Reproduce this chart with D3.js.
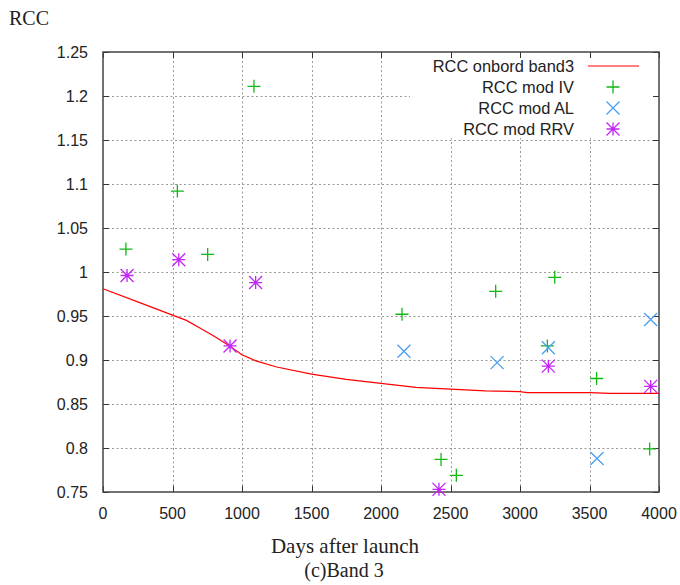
<!DOCTYPE html>
<html>
<head>
<meta charset="utf-8">
<script src="https://cdn.jsdelivr.net/npm/d3@7"></script>
<style>
  body { margin: 0; background: #fff; }
  svg { display: block; }
  .tick-label { font-family: "Liberation Sans", Arial, sans-serif; font-size: 16px; fill: #222; }
  .serif { font-family: "Liberation Serif", "Times New Roman", serif; fill: #222; }
</style>
</head>
<body>
<div id="chart"></div>
<script>
// onboard RCC curve (days, value)
var onboardDays = [0, 250, 500, 600, 700, 800, 900, 1000, 1100, 1250, 1500, 1750, 2000, 2250, 2500, 2750, 3000, 3050, 3500, 3650, 4000];
var onboardRcc  = [0.981, 0.966, 0.951, 0.945, 0.936, 0.927, 0.917, 0.906, 0.899, 0.892, 0.884, 0.878, 0.8735, 0.869, 0.867, 0.865, 0.864, 0.863, 0.863, 0.862, 0.862];

// RCC mod IV
var ivDays = [165, 535, 753, 1086, 2151, 2432, 2542, 2825, 3197, 3250, 3551, 3933];
var ivRcc  = [1.026, 1.092, 1.020, 1.211, 0.952, 0.787, 0.769, 0.978, 0.916, 0.994, 0.879, 0.799];

// RCC mod AL
var alDays = [2165, 2835, 3204, 3554, 3940];
var alRcc  = [0.910, 0.897, 0.914, 0.788, 0.946];

// RCC mod RRV
var rrvDays = [173, 545, 914, 1098, 2417, 3204, 3940];
var rrvRcc  = [0.996, 1.014, 0.916, 0.988, 0.753, 0.893, 0.870];

var xTicks = [0, 500, 1000, 1500, 2000, 2500, 3000, 3500, 4000];
var yTicks = [0.75, 0.8, 0.85, 0.9, 0.95, 1, 1.05, 1.1, 1.15, 1.2, 1.25];

var legendLabels = ["RCC onbord band3", "RCC mod IV", "RCC mod AL", "RCC mod RRV"];

var width = 680, height = 585;
var plotL = 103, plotR = 659, plotT = 52, plotB = 492;

var svg = d3.select("#chart").append("svg")
    .attr("width", width)
    .attr("height", height);

var x = d3.scaleLinear().domain([0, 4000]).range([plotL, plotR]);
var y = d3.scaleLinear().domain([0.75, 1.25]).range([plotB, plotT]);

// grid
var grid = svg.append("g");
grid.selectAll(".vg").data(xTicks.slice(1, -1)).enter().append("line")
    .attr("x1", d => Math.round(x(d)) + 0.5).attr("x2", d => Math.round(x(d)) + 0.5)
    .attr("y1", plotT).attr("y2", plotB)
    .attr("stroke", "#999").attr("stroke-width", 1)
    .attr("stroke-dasharray", "2,2.5");
grid.selectAll(".hg").data(yTicks.slice(1, -1)).enter().append("line")
    .attr("y1", d => Math.round(y(d)) + 0.5).attr("y2", d => Math.round(y(d)) + 0.5)
    .attr("x1", plotL).attr("x2", plotR)
    .attr("stroke", "#999").attr("stroke-width", 1)
    .attr("stroke-dasharray", "2,2.5");

// legend box (opaque, hides the grid behind it)
svg.append("rect")
    .attr("x", 410).attr("y", plotT + 1)
    .attr("width", plotR - 411).attr("height", 85)
    .attr("fill", "#fff");

// ticks (inward, mirrored)
var tk = 6;
var ticks = svg.append("g").attr("stroke", "#333").attr("stroke-width", 1);
xTicks.forEach(function(d) {
    var xx = Math.round(x(d)) + 0.5;
    ticks.append("line").attr("x1", xx).attr("x2", xx).attr("y1", plotB).attr("y2", plotB - tk);
    ticks.append("line").attr("x1", xx).attr("x2", xx).attr("y1", plotT).attr("y2", plotT + tk);
});
yTicks.forEach(function(d) {
    var yy = Math.round(y(d)) + 0.5;
    ticks.append("line").attr("y1", yy).attr("y2", yy).attr("x1", plotL).attr("x2", plotL + tk);
    ticks.append("line").attr("y1", yy).attr("y2", yy).attr("x1", plotR).attr("x2", plotR - tk);
});

// frame
svg.append("rect")
    .attr("x", plotL).attr("y", plotT)
    .attr("width", plotR - plotL).attr("height", plotB - plotT)
    .attr("fill", "none").attr("stroke", "#444").attr("stroke-width", 1.5);

// tick labels
svg.selectAll(".xl").data(xTicks).enter().append("text")
    .attr("class", "tick-label")
    .attr("x", d => x(d)).attr("y", plotB + 27)
    .attr("text-anchor", "middle")
    .text(d => d);
svg.selectAll(".yl").data(yTicks).enter().append("text")
    .attr("class", "tick-label")
    .attr("x", 88).attr("y", d => y(d) + 6)
    .attr("text-anchor", "end")
    .text(d => d);

// onboard line
var line = d3.line().x(d => x(d[0])).y(d => y(d[1]));
svg.append("path")
    .datum(d3.zip(onboardDays, onboardRcc))
    .attr("d", line)
    .attr("fill", "none").attr("stroke", "#ff0000").attr("stroke-width", 1.2);

// marker shapes
var s = 6.5;
var plusPath = "M" + (-s) + ",0H" + s + "M0," + (-s) + "V" + s;
var crossPath = "M" + (-s) + "," + (-s) + "L" + s + "," + s + "M" + (-s) + "," + s + "L" + s + "," + (-s);
var starPath = plusPath + crossPath;

var green = "#12b812", blue = "#4a9ff0", magenta = "#c226f5";

function drawPoints(days, vals, path, color) {
    svg.append("g").selectAll("path").data(d3.zip(days, vals)).enter().append("path")
        .attr("transform", d => "translate(" + x(d[0]) + "," + y(d[1]) + ")")
        .attr("d", path)
        .attr("fill", "none").attr("stroke", color).attr("stroke-width", 1.3);
}
drawPoints(ivDays, ivRcc, plusPath, green);
drawPoints(alDays, alRcc, crossPath, blue);
drawPoints(rrvDays, rrvRcc, starPath, magenta);

// legend
var lg = svg.append("g");
var rowY = [66, 87, 108, 129];
lg.selectAll("text").data(legendLabels).enter().append("text")
    .attr("class", "tick-label")
    .style("font-size", "16.4px")
    .attr("x", 574).attr("y", (d, i) => rowY[i] + 6)
    .attr("text-anchor", "end")
    .text(d => d);
lg.append("line").attr("x1", 588).attr("x2", 639).attr("y1", rowY[0]).attr("y2", rowY[0])
    .attr("stroke", "#ff0000").attr("stroke-width", 1.2);
[[plusPath, green], [crossPath, blue], [starPath, magenta]].forEach(function(m, i) {
    lg.append("path")
        .attr("transform", "translate(613," + rowY[i + 1] + ")")
        .attr("d", m[0]).attr("fill", "none").attr("stroke", m[1]).attr("stroke-width", 1.3);
});

// titles
svg.append("text").attr("class", "serif").style("font-size", "20px")
    .attr("x", 9).attr("y", 25).text("RCC");
svg.append("text").attr("class", "serif").style("font-size", "21px")
    .attr("x", 345).attr("y", 553).attr("text-anchor", "middle").text("Days after launch");
svg.append("text").attr("class", "serif").style("font-size", "20px")
    .attr("x", 344).attr("y", 577).attr("text-anchor", "middle").text("(c)Band 3");
</script>
</body>
</html>
